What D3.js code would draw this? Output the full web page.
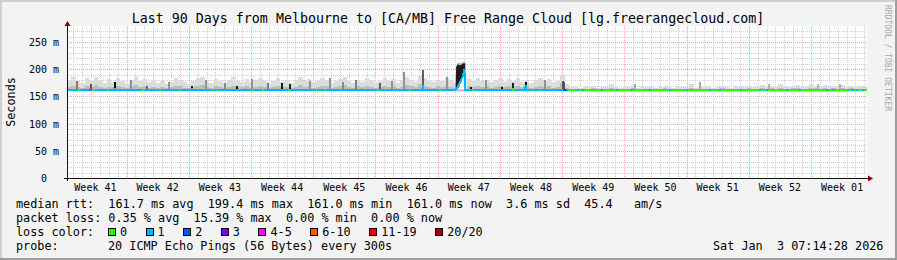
<!DOCTYPE html>
<html>
<head>
<meta charset="utf-8">
<script src="https://cdn.jsdelivr.net/npm/d3@7"></script>
<style>
html, body { margin: 0; padding: 0; background: #f3f3f3; }
svg { display: block; }
text { font-family: "DejaVu Sans Mono", monospace; fill: #000; white-space: pre; }
</style>
</head>
<body>
<div id="chart"></div>
<script>
const W = 897, H = 260;

// time range: last 90 days up to the graph stamp
const endTime = Date.UTC(2026, 0, 3, 7, 14, 28);
const startTime = endTime - 90 * 864e5;
const dayT = d => new Date(startTime + d * 864e5);

const titleText = "Last 90 Days from Melbourne to [CA/MB] Free Range Cloud [lg.freerangecloud.com]";
const yTicks = [0, 50, 100, 150, 200, 250];
const lossLabels = ["0", "1", "2", "3", "4-5", "6-10", "11-19", "20/20"];
const lossColors = ["#26ff00", "#00b8ff", "#0059ff", "#7e00ff", "#ff00ff", "#ff5500", "#ff0000", "#a10000"];

// median rtt (ms) at day offsets from start
const medDay = [0, 5.3, 5.4, 5.5, 14.0, 14.1, 14.2, 39.95, 40.05, 40.15, 43.72, 44.0, 44.25, 44.5, 44.7, 44.8, 50.1, 50.2, 50.3, 51.5, 51.6, 51.7, 90];
const medMs  = [161.9, 161.9, 164, 161.9, 161.9, 163.5, 161.9, 161.9, 167, 161.9, 161.9, 168, 177, 186, 199.4, 161.9, 161.9, 164, 161.9, 161.9, 170, 161.9, 161.9];

// loss category of the median line (base periods + short patches)
const baseDay = [0, 55.8, 56.2, 90];
const baseCat = [1, 2, 0];
const patchDay = [1.35, 2.59, 3.04, 4.61, 8.55, 10.46, 12.71, 16.31, 16.99, 20.92, 22.05, 24.97, 28.12, 29.02, 34.99, 38.59, 41.96, 45.67, 50.17, 52.42, 53.21,
                  57.49, 58.05, 60.19, 61.87, 63.56, 65.59, 67.84, 69.75, 72.34, 73.46, 75.82, 77.96, 78.75, 81.0, 82.46, 85.5, 86.17, 87.86, 88.42, 88.87, 89.55];
const patchCat = [0, 4, 0, 0, 0, 0, 0, 0, 0, 0, 0, 0, 0, 0, 0, 0, 0, 0, 0, 0, 0,
                  1, 1, 1, 1, 1, 1, 1, 1, 1, 1, 1, 1, 1, 1, 1, 1, 1, 1, 1, 1, 1];

// smoke upper edge (ms), one value per half day
const smokeHi = [
  181,186,179,175,183,178,185,180,174,182,177,184,179,173,181,187,178,182,176,180,
  175,179,173,177,184,181,176,172,179,183,186,180,175,182,178,174,181,185,179,177,
  182,176,180,184,178,173,179,183,177,181,175,180,186,178,182,176,179,184,181,175,
  178,182,185,179,174,181,177,183,180,176,179,184,178,182,175,180,186,181,177,188,
  183,179,176,181,178,184,180,175,163,163,182,179,184,178,181,176,180,183,177,182,
  179,184,177,181,175,180,183,178,182,176,179,190,172,
  167,168,166,169,167,170,166,168,167,172,168,166,169,167,171,166,168,167,169,166,
  168,170,167,166,169,168,167,172,166,168,169,167,166,168,170,167,166,169,168,167,
  170,168,169,171,167,170,168,172,169,167,170,171,168,169,172,170,168,171,169,170,
  168,171,169,170,167,169,168
];
// denser part of the smoke (ms), one value per half day
const smokeMid = [
  168,170,167,166,169,167,171,168,165,168,167,170,168,165,169,171,167,169,166,168,
  166,168,165,167,170,169,166,165,168,169,171,168,166,169,167,165,168,170,168,167,
  169,166,168,170,167,165,168,169,167,168,166,168,171,167,169,166,168,170,169,166,
  167,169,171,168,165,169,167,170,168,166,168,170,167,169,166,168,171,169,167,172,
  170,168,166,169,167,170,168,166,162,162,169,168,170,167,169,166,168,170,167,169,
  168,170,167,169,166,168,170,167,169,166,168,174,166,
  163,164,163,164,163,165,163,164,163,165,164,163,164,163,165,163,164,163,164,163,
  164,165,163,163,164,164,163,165,163,164,164,163,163,164,165,163,163,164,164,163,
  165,164,164,165,163,165,164,165,164,163,165,165,164,164,165,165,164,165,164,165,
  164,165,164,165,163,164,164
];

// darker smoke streaks: day, top (ms), share of pings
const streakDay = [1.12, 2.7, 5.4, 7.2, 9.0, 11.5, 14.06, 15.6, 17.8, 19.1, 20.8, 22.6, 24.2, 25.1, 27.3, 29.6, 31.0, 32.5, 35.2, 36.6, 37.9, 40.05, 40.1, 42.75, 45.45, 47.1, 48.9, 50.2, 51.6, 53.8, 55.75, 55.95, 63.9, 71.2, 79.0, 84.5, 87.0];
const streakTop = [178, 172, 176, 180, 170, 176, 170, 181, 175, 170, 182, 174, 174, 172, 178, 184, 176, 180, 175, 179, 195, 198, 170, 185, 168, 180, 168, 175, 176, 180, 178, 176, 173, 176, 172, 173, 172];
const streakDensity = [0.4, 0.6, 0.95, 0.3, 0.5, 0.3, 0.9, 0.3, 0.35, 0.9, 0.3, 0.4, 0.9, 0.85, 0.3, 0.3, 0.35, 0.4, 0.55, 0.3, 0.3, 0.55, 0.95, 0.3, 0.9, 0.3, 0.9, 0.85, 0.9, 0.3, 0.6, 0.6, 0.2, 0.2, 0.15, 0.15, 0.15];

// the latency spike in week 47
const spikeDay = [43.72, 43.78, 44.0, 44.25, 44.5, 44.7, 44.8];
const spikeLo  = [162, 162, 168, 177, 186, 194, 162];
const spikeHi  = [166, 204, 209, 207, 210, 211, 211];
const spikeTop = [170, 208, 212, 211, 213, 214, 213];

const statLines = [
  "median rtt:  161.7 ms avg  199.4 ms max  161.0 ms min  161.0 ms now  3.6 ms sd  45.4   am/s",
  "packet loss: 0.35 % avg  15.39 % max  0.00 % min  0.00 % now"
];
const probeText = "20 ICMP Echo Pings (56 Bytes) every 300s";
const stampText = "Sat Jan  3 07:14:28 2026";

const svg = d3.select("#chart").append("svg")
  .attr("width", W).attr("height", H)
  .attr("xml:space", "preserve");

// frame
svg.append("rect").attr("width", W).attr("height", H).attr("fill", "#f3f3f3");
svg.append("path").attr("d", `M0,0H${W}V2H2V${H}H0Z`).attr("fill", "#cfcfcf");
svg.append("path").attr("d", `M${W},${H}H0V${H - 2}H${W - 2}V0H${W}Z`).attr("fill", "#9e9e9e");

const x = d3.scaleTime().domain([dayT(0), dayT(90)]).range([67, 867]);
const y = d3.scaleLinear().domain([0, 279.4]).range([178, 26]);
const xd = d => x(dayT(d));
const px = v => Math.round(v) + 0.5;

svg.append("rect").attr("x", 67).attr("y", 26).attr("width", 800).attr("height", 152).attr("fill", "#fff");

// grid
const grid = svg.append("g").attr("shape-rendering", "crispEdges").attr("stroke-dasharray", "1,1");
const minorY = y.ticks(28).filter(v => v % 50 !== 0);
grid.selectAll(".hmin").data(minorY).join("line")
  .attr("x1", 67).attr("x2", 867).attr("y1", d => px(y(d))).attr("y2", d => px(y(d)))
  .attr("stroke", "#d0d0d0");
const weeks = d3.utcSunday.range(dayT(0), dayT(90));
const days = d3.utcDay.range(dayT(0), dayT(90)).filter(d => d.getUTCDay() !== 0);
grid.selectAll(".vmin").data(days).join("line")
  .attr("x1", d => px(x(d))).attr("x2", d => px(x(d))).attr("y1", 26).attr("y2", 178)
  .attr("stroke", "#d0d0d0");
grid.selectAll(".hmaj").data(yTicks.filter(v => v > 0)).join("line")
  .attr("x1", 67).attr("x2", 867).attr("y1", d => px(y(d))).attr("y2", d => px(y(d)))
  .attr("stroke", "#f2a8a8");
grid.selectAll(".vmaj").data(weeks).join("line")
  .attr("x1", d => px(x(d))).attr("x2", d => px(x(d))).attr("y1", 26).attr("y2", 178)
  .attr("stroke", "#f2a8a8");

// smoke
const smokeArea = d3.area().curve(d3.curveStepAfter).x(d => xd(d[0])).y0(y(160.5)).y1(d => y(d[1]));
const stepPts = arr => arr.map((v, i) => [i * 0.5, v]).concat([[90, arr[arr.length - 1]]]);
const smokeG = svg.append("g").attr("shape-rendering", "crispEdges");
smokeG.append("path").datum(stepPts(smokeHi)).attr("d", smokeArea).attr("fill", "#dcdcdc");
smokeG.append("path").datum(stepPts(smokeMid)).attr("d", smokeArea).attr("fill", "#bcbcbc");

const shade = d3.scaleLinear().domain([0, 1]).range(["#d2d2d2", "#000000"]);
smokeG.selectAll(".streak").data(streakDay).join("rect")
  .attr("x", d => xd(d - 0.11)).attr("width", d => xd(d + 0.11) - xd(d - 0.11))
  .attr("y", (d, i) => y(streakTop[i])).attr("height", (d, i) => y(160.5) - y(streakTop[i]))
  .attr("fill", (d, i) => shade(streakDensity[i]));

const spikePts = spikeDay.map((d, i) => ({ d, lo: spikeLo[i], hi: spikeHi[i], top: spikeTop[i] }));
svg.append("path").datum(spikePts)
  .attr("d", d3.area().x(p => xd(p.d)).y0(p => y(p.lo)).y1(p => y(p.top)))
  .attr("fill", "#bdbdbd");
svg.append("path").datum(spikePts)
  .attr("d", d3.area().x(p => xd(p.d)).y0(p => y(p.lo)).y1(p => y(p.hi)))
  .attr("fill", "#1c1c1c");

// median line coloured by loss
const medAt = d3.scaleLinear().domain(medDay).range(medMs);
const medLine = d3.line().x(d => xd(d)).y(d => y(medAt(d)));
const segPts = (a, b) => [a, ...medDay.filter(d => d > a && d < b), b];
const lineG = svg.append("g").attr("fill", "none").attr("stroke-width", 2).attr("shape-rendering", "crispEdges");
baseCat.forEach((c, i) => {
  lineG.append("path").attr("d", medLine(segPts(baseDay[i], baseDay[i + 1]))).attr("stroke", lossColors[c]);
});
patchDay.forEach((p, i) => {
  lineG.append("path").attr("d", medLine(segPts(p - 0.15, p + 0.15))).attr("stroke", lossColors[patchCat[i]]);
});

// axes
svg.append("line").attr("x1", 64).attr("x2", 870).attr("y1", 178.5).attr("y2", 178.5)
  .attr("stroke", "#101010").attr("shape-rendering", "crispEdges");
svg.append("line").attr("x1", 67.5).attr("x2", 67.5).attr("y1", 181).attr("y2", 24)
  .attr("stroke", "#101010").attr("shape-rendering", "crispEdges");
svg.append("path").attr("d", "M64.5,26L70.5,26L67.5,21Z").attr("fill", "#7f0000");
svg.append("path").attr("d", "M868,175.5L868,181.5L873,178.5Z").attr("fill", "#7f0000");

svg.selectAll(".ylab").data(yTicks).join("text")
  .attr("x", 59).attr("y", d => px(y(d)) + 3.5)
  .attr("text-anchor", "end").style("font-size", "10px")
  .text(d => d === 0 ? "0  " : `${d} m`);

const weekLab = d3.utcSunday.range(d3.utcSunday.floor(dayT(0)), dayT(90))
  .map(s => new Date(+s + 3.5 * 864e5));
const fmtWeek = d3.utcFormat("Week %V");
svg.selectAll(".xlab").data(weekLab).join("text")
  .attr("x", d => x(d)).attr("y", 191)
  .attr("text-anchor", "middle").style("font-size", "10px")
  .text(d => fmtWeek(d));

svg.append("text")
  .attr("transform", "translate(14.5,102) rotate(-90)")
  .attr("text-anchor", "middle").style("font-size", "11.8px")
  .text("Seconds");

svg.append("text")
  .attr("x", 448).attr("y", 23).attr("text-anchor", "middle").style("font-size", "13.3px")
  .text(titleText);

svg.append("text")
  .attr("transform", "translate(885,5) rotate(90)")
  .style("font-size", "8px").style("fill", "#a8a8a8")
  .text("RRDTOOL / TOBI OETIKER");

// legend
const rowY = [208, 222, 236, 249.5];
statLines.forEach((s, i) => {
  svg.append("text").attr("x", 16).attr("y", rowY[i]).style("font-size", "11.8px").text(s);
});
svg.append("text").attr("x", 16).attr("y", rowY[2]).style("font-size", "11.8px").text("loss color:");
let lx = 108;
lossLabels.forEach((l, i) => {
  svg.append("rect").attr("x", lx + 0.5).attr("y", 228.5).attr("width", 7).attr("height", 7)
    .attr("fill", lossColors[i]).attr("stroke", "#000").attr("shape-rendering", "crispEdges");
  const t = svg.append("text").attr("x", lx + 12).attr("y", rowY[2]).style("font-size", "11.8px").text(l);
  lx = lx + 12 + t.node().getComputedTextLength() + 18.5;
});
svg.append("text").attr("x", 16).attr("y", rowY[3]).style("font-size", "11.8px").text("probe:");
svg.append("text").attr("x", 108).attr("y", rowY[3]).style("font-size", "11.8px").text(probeText);
svg.append("text").attr("x", 713).attr("y", rowY[3]).style("font-size", "11.8px").text(stampText);
</script>
</body>
</html>
